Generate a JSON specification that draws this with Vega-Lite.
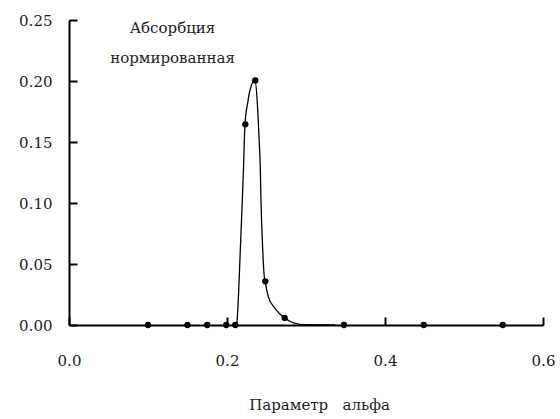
{
  "$schema": "https://vega.github.io/schema/vega-lite/v6.json",
  "autosize": {"type": "none"},
  "width": 474,
  "height": 305,
  "padding": {"left": 69, "top": 20, "right": 17, "bottom": 94},
  "background": "white",
  "config": {
    "view": {"stroke": null},
    "font": "DejaVu Serif",
    "axis": {
      "grid": false,
      "domainColor": "black",
      "domainWidth": 2,
      "tickColor": "black",
      "tickWidth": 2,
      "tickSize": -8,
      "labelFont": "DejaVu Serif",
      "labelFontSize": 15,
      "labelColor": "#222",
      "labelFlush": false,
      "titleFont": "DejaVu Serif",
      "titleFontSize": 15,
      "titleFontWeight": "normal",
      "titleColor": "#222"
    }
  },
  "datasets": {
    "pts": [
      {"a": 0.1, "v": 0},
      {"a": 0.15, "v": 0},
      {"a": 0.175, "v": 0},
      {"a": 0.199, "v": 0},
      {"a": 0.2105, "v": 0},
      {"a": 0.2232, "v": 0.1645},
      {"a": 0.2358, "v": 0.2005},
      {"a": 0.2485, "v": 0.0358},
      {"a": 0.273, "v": 0.0058},
      {"a": 0.348, "v": 0},
      {"a": 0.449, "v": 0},
      {"a": 0.549, "v": 0}
    ],
    "curve": [
      {"a": 0.2101, "v": 0},
      {"a": 0.2123, "v": 0.0014},
      {"a": 0.2143, "v": 0.0205},
      {"a": 0.2165, "v": 0.056},
      {"a": 0.2194, "v": 0.1025},
      {"a": 0.2208, "v": 0.127},
      {"a": 0.2228, "v": 0.1648},
      {"a": 0.2262, "v": 0.182},
      {"a": 0.2291, "v": 0.1926},
      {"a": 0.2354, "v": 0.2005},
      {"a": 0.2384, "v": 0.1817},
      {"a": 0.2405, "v": 0.1543},
      {"a": 0.2422, "v": 0.127},
      {"a": 0.243, "v": 0.1025},
      {"a": 0.2447, "v": 0.0697},
      {"a": 0.2472, "v": 0.0396},
      {"a": 0.2481, "v": 0.0361},
      {"a": 0.2523, "v": 0.0232},
      {"a": 0.2608, "v": 0.0137},
      {"a": 0.2725, "v": 0.006},
      {"a": 0.2861, "v": 0.0014},
      {"a": 0.2987, "v": 0.0002},
      {"a": 0.337, "v": 0}
    ]
  },
  "layer": [
    {
      "data": {"name": "curve"},
      "mark": {"type": "line", "color": "black", "strokeWidth": 1.3, "interpolate": "monotone"},
      "encoding": {
        "x": {
          "field": "a", "type": "quantitative",
          "scale": {"domain": [0, 0.6], "nice": false},
          "axis": {
            "values": [0, 0.2, 0.4, 0.6], "format": ".1f",
            "labelPadding": 36,
            "title": "Параметр\u00a0\u00a0\u00a0альфа",
            "titlePadding": 29,
            "titleX": 250
          }
        },
        "y": {
          "field": "v", "type": "quantitative",
          "scale": {"domain": [0, 0.25], "nice": false},
          "axis": {
            "values": [0, 0.05, 0.1, 0.15, 0.2, 0.25], "format": ".2f",
            "labelPadding": 25,
            "title": ["Абсорбция", "нормированная"],
            "titleAngle": 0,
            "titleAlign": "center",
            "titleBaseline": "middle",
            "titleX": 103,
            "titleY": 7,
            "titleLineHeight": 30
          }
        }
      }
    },
    {
      "data": {"name": "pts"},
      "mark": {"type": "point", "filled": true, "color": "black", "size": 40, "opacity": 1},
      "encoding": {
        "x": {"field": "a", "type": "quantitative"},
        "y": {"field": "v", "type": "quantitative"}
      }
    }
  ]
}
